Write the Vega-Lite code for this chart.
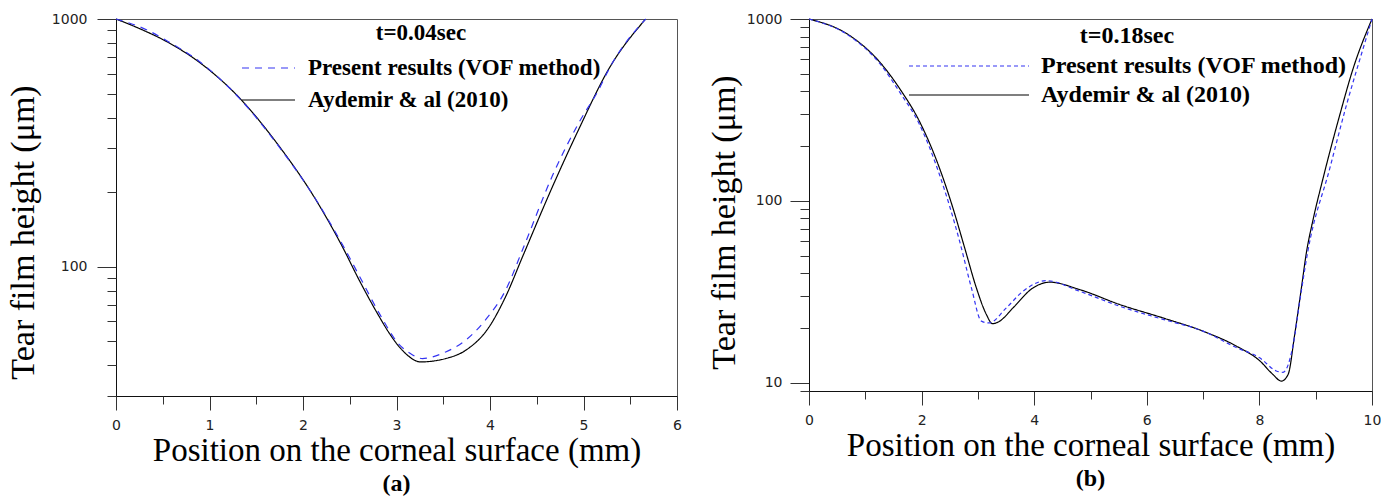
{
  "$schema": "https://vega.github.io/schema/vega-lite/v6.json",
  "padding": {"left": 5, "top": 11, "right": 0, "bottom": 0},
  "background": "white",
  "spacing": 24,
  "resolve": {"scale": {"color": "independent", "strokeDash": "independent"}, "legend": {"color": "independent", "strokeDash": "independent"}},
  "config": {
    "view": {"stroke": "#555555", "strokeWidth": 1},
    "axis": {"grid": false, "labelFont": "DejaVu Sans", "labelFontSize": 14, "labelColor": "#222222", "titleFont": "Liberation Serif", "titleFontSize": 34, "titleFontWeight": "normal", "titleColor": "#000000", "domainColor": "#111111", "tickColor": "#333333"},
    "title": {"font": "Liberation Serif", "fontSize": 24, "fontWeight": "bold", "color": "#000000"}
  },
  "datasets": {
    "a": [
      {"series": "Aydemir & al (2010)", "x": 0, "h": 1000},
      {"series": "Aydemir & al (2010)", "x": 0.25, "h": 915},
      {"series": "Aydemir & al (2010)", "x": 0.53, "h": 815},
      {"series": "Aydemir & al (2010)", "x": 0.888, "h": 670},
      {"series": "Aydemir & al (2010)", "x": 1.316, "h": 482},
      {"series": "Aydemir & al (2010)", "x": 1.743, "h": 307},
      {"series": "Aydemir & al (2010)", "x": 2.136, "h": 186.5},
      {"series": "Aydemir & al (2010)", "x": 2.42, "h": 120.5},
      {"series": "Aydemir & al (2010)", "x": 2.6, "h": 88.3},
      {"series": "Aydemir & al (2010)", "x": 2.813, "h": 63},
      {"series": "Aydemir & al (2010)", "x": 2.92, "h": 54},
      {"series": "Aydemir & al (2010)", "x": 3.027, "h": 47.5},
      {"series": "Aydemir & al (2010)", "x": 3.098, "h": 44.5},
      {"series": "Aydemir & al (2010)", "x": 3.259, "h": 41.2},
      {"series": "Aydemir & al (2010)", "x": 3.526, "h": 42.5},
      {"series": "Aydemir & al (2010)", "x": 3.74, "h": 45.9},
      {"series": "Aydemir & al (2010)", "x": 3.99, "h": 57},
      {"series": "Aydemir & al (2010)", "x": 4.17, "h": 76},
      {"series": "Aydemir & al (2010)", "x": 4.35, "h": 110},
      {"series": "Aydemir & al (2010)", "x": 4.67, "h": 211},
      {"series": "Aydemir & al (2010)", "x": 4.95, "h": 359},
      {"series": "Aydemir & al (2010)", "x": 5.27, "h": 628},
      {"series": "Aydemir & al (2010)", "x": 5.665, "h": 1000},
      {"series": "Present results (VOF method)", "x": 0, "h": 1000},
      {"series": "Present results (VOF method)", "x": 0.353, "h": 895},
      {"series": "Present results (VOF method)", "x": 0.53, "h": 822},
      {"series": "Present results (VOF method)", "x": 0.888, "h": 675},
      {"series": "Present results (VOF method)", "x": 1.316, "h": 480},
      {"series": "Present results (VOF method)", "x": 1.743, "h": 305},
      {"series": "Present results (VOF method)", "x": 2.136, "h": 187},
      {"series": "Present results (VOF method)", "x": 2.42, "h": 123},
      {"series": "Present results (VOF method)", "x": 2.6, "h": 92},
      {"series": "Present results (VOF method)", "x": 2.813, "h": 65},
      {"series": "Present results (VOF method)", "x": 3.027, "h": 48.5},
      {"series": "Present results (VOF method)", "x": 3.15, "h": 44.5},
      {"series": "Present results (VOF method)", "x": 3.276, "h": 42.5},
      {"series": "Present results (VOF method)", "x": 3.526, "h": 45.2},
      {"series": "Present results (VOF method)", "x": 3.74, "h": 50.4},
      {"series": "Present results (VOF method)", "x": 3.95, "h": 60.8},
      {"series": "Present results (VOF method)", "x": 4.168, "h": 80.4},
      {"series": "Present results (VOF method)", "x": 4.36, "h": 120},
      {"series": "Present results (VOF method)", "x": 4.666, "h": 232},
      {"series": "Present results (VOF method)", "x": 4.952, "h": 382},
      {"series": "Present results (VOF method)", "x": 5.166, "h": 521},
      {"series": "Present results (VOF method)", "x": 5.273, "h": 628},
      {"series": "Present results (VOF method)", "x": 5.665, "h": 1000}
    ],
    "b": [
      {"series": "Aydemir & al (2010)", "x": 0, "h": 1000},
      {"series": "Aydemir & al (2010)", "x": 0.723, "h": 811},
      {"series": "Aydemir & al (2010)", "x": 1.256, "h": 580},
      {"series": "Aydemir & al (2010)", "x": 1.611, "h": 414},
      {"series": "Aydemir & al (2010)", "x": 1.966, "h": 272},
      {"series": "Aydemir & al (2010)", "x": 2.32, "h": 150.7},
      {"series": "Aydemir & al (2010)", "x": 2.558, "h": 91},
      {"series": "Aydemir & al (2010)", "x": 2.766, "h": 55},
      {"series": "Aydemir & al (2010)", "x": 2.973, "h": 33.2},
      {"series": "Aydemir & al (2010)", "x": 3.151, "h": 23.7},
      {"series": "Aydemir & al (2010)", "x": 3.257, "h": 21.1},
      {"series": "Aydemir & al (2010)", "x": 3.387, "h": 21.8},
      {"series": "Aydemir & al (2010)", "x": 3.624, "h": 25.8},
      {"series": "Aydemir & al (2010)", "x": 3.979, "h": 33.2},
      {"series": "Aydemir & al (2010)", "x": 4.275, "h": 35.7},
      {"series": "Aydemir & al (2010)", "x": 4.808, "h": 32.5},
      {"series": "Aydemir & al (2010)", "x": 5.519, "h": 26.9},
      {"series": "Aydemir & al (2010)", "x": 6.288, "h": 22.7},
      {"series": "Aydemir & al (2010)", "x": 6.998, "h": 19.2},
      {"series": "Aydemir & al (2010)", "x": 7.59, "h": 15.9},
      {"series": "Aydemir & al (2010)", "x": 8.005, "h": 13.2},
      {"series": "Aydemir & al (2010)", "x": 8.24, "h": 11.1},
      {"series": "Aydemir & al (2010)", "x": 8.39, "h": 10.2},
      {"series": "Aydemir & al (2010)", "x": 8.51, "h": 11.1},
      {"series": "Aydemir & al (2010)", "x": 8.627, "h": 18.4},
      {"series": "Aydemir & al (2010)", "x": 8.746, "h": 33.2},
      {"series": "Aydemir & al (2010)", "x": 8.835, "h": 52},
      {"series": "Aydemir & al (2010)", "x": 8.95, "h": 78},
      {"series": "Aydemir & al (2010)", "x": 9.13, "h": 132.8},
      {"series": "Aydemir & al (2010)", "x": 9.426, "h": 295.6},
      {"series": "Aydemir & al (2010)", "x": 9.663, "h": 532},
      {"series": "Aydemir & al (2010)", "x": 10, "h": 1000},
      {"series": "Present results (VOF method)", "x": 0, "h": 1000},
      {"series": "Present results (VOF method)", "x": 0.723, "h": 805},
      {"series": "Present results (VOF method)", "x": 1.256, "h": 570},
      {"series": "Present results (VOF method)", "x": 1.611, "h": 396},
      {"series": "Present results (VOF method)", "x": 1.966, "h": 262},
      {"series": "Present results (VOF method)", "x": 2.32, "h": 138.7},
      {"series": "Present results (VOF method)", "x": 2.676, "h": 59.8},
      {"series": "Present results (VOF method)", "x": 2.885, "h": 33.2},
      {"series": "Present results (VOF method)", "x": 3.062, "h": 21.8},
      {"series": "Present results (VOF method)", "x": 3.197, "h": 21.3},
      {"series": "Present results (VOF method)", "x": 3.506, "h": 25.8},
      {"series": "Present results (VOF method)", "x": 3.8, "h": 31.8},
      {"series": "Present results (VOF method)", "x": 4.217, "h": 36.4},
      {"series": "Present results (VOF method)", "x": 4.81, "h": 31.8},
      {"series": "Present results (VOF method)", "x": 5.52, "h": 26.3},
      {"series": "Present results (VOF method)", "x": 6.29, "h": 22.3},
      {"series": "Present results (VOF method)", "x": 7.0, "h": 19.2},
      {"series": "Present results (VOF method)", "x": 7.59, "h": 15.6},
      {"series": "Present results (VOF method)", "x": 8.005, "h": 13.7},
      {"series": "Present results (VOF method)", "x": 8.3, "h": 11.6},
      {"series": "Present results (VOF method)", "x": 8.42, "h": 11.4},
      {"series": "Present results (VOF method)", "x": 8.6, "h": 16.2},
      {"series": "Present results (VOF method)", "x": 8.716, "h": 28},
      {"series": "Present results (VOF method)", "x": 8.86, "h": 52.7},
      {"series": "Present results (VOF method)", "x": 9.25, "h": 150.7},
      {"series": "Present results (VOF method)", "x": 9.545, "h": 335},
      {"series": "Present results (VOF method)", "x": 9.84, "h": 685},
      {"series": "Present results (VOF method)", "x": 10, "h": 1000}
    ]
  },
  "hconcat": [
    {
      "width": 561,
      "height": 377,
      "data": {"name": "a"},
      "title": {"text": "(a)", "orient": "bottom", "offset": 5},
      "resolve": {"axis": {"x": "independent", "y": "independent"}},
      "layer": [
        {
          "mark": {"type": "line", "strokeWidth": 1.2, "interpolate": "monotone"},
          "encoding": {
            "x": {"field": "x", "type": "quantitative",
              "scale": {"domain": [0, 6], "nice": false, "zero": false},
              "axis": {"orient": "bottom", "values": [0, 1, 2, 3, 4, 5, 6], "tickSize": 14, "labelPadding": 8, "title": "Position on the corneal surface (mm)", "titleFontSize": 33, "titlePadding": 2, "labelFlush": false}},
            "y": {"field": "h", "type": "quantitative",
              "scale": {"type": "log", "domain": [30, 1000], "nice": false},
              "axis": {"orient": "left", "values": [100, 1000], "tickSize": 19, "labelPadding": 10, "format": "d", "title": "Tear film height (μm)", "titlePadding": 11, "titleY": 213, "labelFlush": false}},
            "color": {"field": "series", "type": "nominal",
              "scale": {"domain": ["Present results (VOF method)", "Aydemir & al (2010)"], "range": ["#3434f2", "#000000"]},
              "legend": {"orient": "none", "legendX": 125, "legendY": 3, "title": "t=0.04sec", "titleFont": "Liberation Serif", "titleFontSize": 23, "titleFontWeight": "bold", "titleColor": "#000000", "titleAnchor": "middle", "titlePadding": 11, "labelFont": "Liberation Serif", "labelFontSize": 23, "labelFontWeight": "bold", "labelColor": "#000000", "labelOffset": 12, "labelLimit": 500, "symbolType": "stroke", "symbolSize": 2809, "symbolStrokeWidth": 1.2, "clipHeight": 24, "rowPadding": 8, "padding": 0}},
            "strokeDash": {"field": "series", "type": "nominal",
              "scale": {"domain": ["Present results (VOF method)", "Aydemir & al (2010)"], "range": [[7, 6], [1, 0]]},
              "legend": {"orient": "none", "legendX": 125, "legendY": 3, "title": "t=0.04sec", "titleFont": "Liberation Serif", "titleFontSize": 23, "titleFontWeight": "bold", "titleColor": "#000000", "titleAnchor": "middle", "titlePadding": 11, "labelFont": "Liberation Serif", "labelFontSize": 23, "labelFontWeight": "bold", "labelColor": "#000000", "labelOffset": 12, "labelLimit": 500, "symbolType": "stroke", "symbolSize": 2809, "symbolStrokeWidth": 1.2, "clipHeight": 24, "rowPadding": 8, "padding": 0}}
          }
        },
        {
          "mark": {"type": "point", "opacity": 0},
          "encoding": {
            "x": {"field": "x", "type": "quantitative",
              "axis": {"orient": "bottom", "values": [0.5, 1.5, 2.5, 3.5, 4.5, 5.5], "tickSize": 8, "labels": false, "domain": false, "title": null}},
            "y": {"field": "h", "type": "quantitative",
              "axis": {"orient": "left", "values": [30, 40, 50, 60, 70, 80, 90, 200, 300, 400, 500, 600, 700, 800, 900], "tickSize": 9, "labels": false, "domain": false, "title": null}}
          }
        }
      ]
    },
    {
      "width": 563,
      "height": 372,
      "data": {"name": "b"},
      "title": {"text": "(b)", "orient": "bottom", "offset": 5},
      "resolve": {"axis": {"x": "independent", "y": "independent"}},
      "layer": [
        {
          "mark": {"type": "line", "strokeWidth": 1.2, "interpolate": "monotone"},
          "encoding": {
            "x": {"field": "x", "type": "quantitative",
              "scale": {"domain": [0, 10], "nice": false, "zero": false},
              "axis": {"orient": "bottom", "values": [0, 2, 4, 6, 8, 10], "tickSize": 14, "labelPadding": 8, "title": "Position on the corneal surface (mm)", "titleFontSize": 33, "titlePadding": 2, "labelFlush": false}},
            "y": {"field": "h", "type": "quantitative",
              "scale": {"type": "log", "domain": [9, 1000], "nice": false},
              "axis": {"orient": "left", "values": [10, 100, 1000], "tickSize": 19, "labelPadding": 8, "format": "d", "title": "Tear film height (μm)", "titlePadding": 5, "titleY": 203, "labelFlush": false}},
            "color": {"field": "series", "type": "nominal",
              "scale": {"domain": ["Present results (VOF method)", "Aydemir & al (2010)"], "range": ["#3434f2", "#000000"]},
              "legend": {"orient": "none", "legendX": 99, "legendY": 5, "title": "t=0.18sec", "titleFont": "Liberation Serif", "titleFontSize": 24, "titleFontWeight": "bold", "titleColor": "#000000", "titleAnchor": "middle", "titlePadding": 6, "labelFont": "Liberation Serif", "labelFontSize": 24, "labelFontWeight": "bold", "labelColor": "#000000", "labelOffset": 11, "labelLimit": 500, "symbolType": "stroke", "symbolSize": 14400, "symbolStrokeWidth": 1.2, "clipHeight": 24, "rowPadding": 5, "padding": 0}},
            "strokeDash": {"field": "series", "type": "nominal",
              "scale": {"domain": ["Present results (VOF method)", "Aydemir & al (2010)"], "range": [[4, 3], [1, 0]]},
              "legend": {"orient": "none", "legendX": 99, "legendY": 5, "title": "t=0.18sec", "titleFont": "Liberation Serif", "titleFontSize": 24, "titleFontWeight": "bold", "titleColor": "#000000", "titleAnchor": "middle", "titlePadding": 6, "labelFont": "Liberation Serif", "labelFontSize": 24, "labelFontWeight": "bold", "labelColor": "#000000", "labelOffset": 11, "labelLimit": 500, "symbolType": "stroke", "symbolSize": 14400, "symbolStrokeWidth": 1.2, "clipHeight": 24, "rowPadding": 5, "padding": 0}}
          }
        },
        {
          "mark": {"type": "point", "opacity": 0},
          "encoding": {
            "x": {"field": "x", "type": "quantitative",
              "axis": {"orient": "bottom", "values": [1, 3, 5, 7, 9], "tickSize": 8, "labels": false, "domain": false, "title": null}},
            "y": {"field": "h", "type": "quantitative",
              "axis": {"orient": "left", "values": [9, 20, 30, 40, 50, 60, 70, 80, 90, 200, 300, 400, 500, 600, 700, 800, 900], "tickSize": 9, "labels": false, "domain": false, "title": null}}
          }
        }
      ]
    }
  ]
}
